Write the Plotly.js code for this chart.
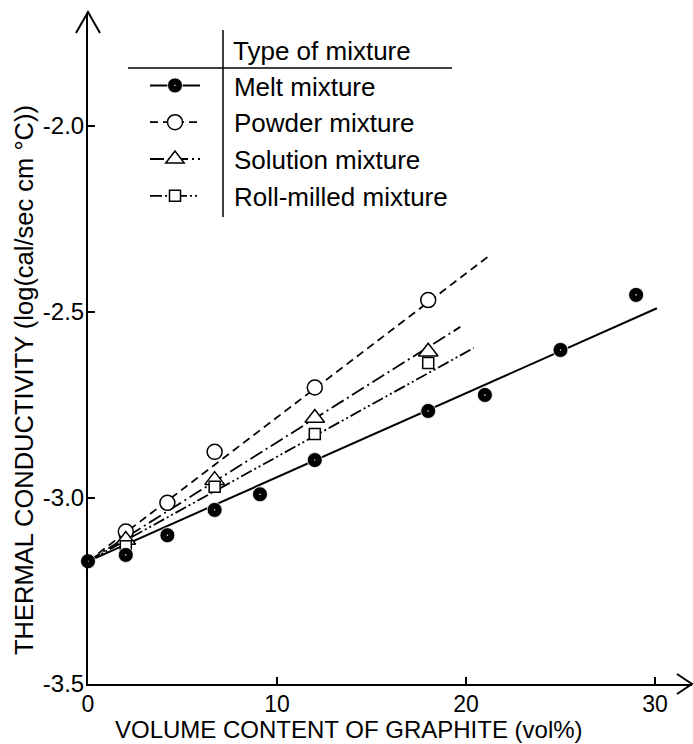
<!DOCTYPE html>
<html>
<head>
<meta charset="utf-8">
<script src="https://cdn.plot.ly/plotly-3.0.1.min.js"></script>
<style>
html,body{margin:0;padding:0;background:#fff;}
#chart{width:693px;height:744px;}
</style>
</head>
<body>
<div id="chart"></div>
<script>
// ---- data ----
const meltX = [0, 2, 4.2, 6.7, 9.1, 12, 18, 21, 25, 29];
const meltY = [-3.17, -3.153, -3.10, -3.032, -2.99, -2.898, -2.766, -2.723, -2.602, -2.454];
const powderX = [2, 4.2, 6.7, 12, 18];
const powderY = [-3.09, -3.013, -2.876, -2.703, -2.468];
const solutionX = [2, 6.7, 12, 18];
const solutionY = [-3.113, -2.952, -2.785, -2.607];
const rollX = [2, 6.7, 12, 18];
const rollY = [-3.13, -2.97, -2.828, -2.637];
// fitted straight lines (start, end)
const meltFitX = [0, 30.1];
const meltFitY = [-3.17, -2.49];
const powderFitX = [0, 21.2];
const powderFitY = [-3.17, -2.35];
const solutionFitX = [0, 19.7];
const solutionFitY = [-3.17, -2.54];
const rollFitX = [0, 20.4];
const rollFitY = [-3.17, -2.597];
const seriesNames = ['Melt mixture', 'Powder mixture', 'Solution mixture', 'Roll-milled mixture'];
const xTicks = [0, 10, 20, 30];
const xTickText = ['0', '10', '20', '30'];
const yTicks = [-3.5, -3.0, -2.5, -2.0];
const yTickText = ['-3.5', '-3.0', '-2.5', '-2.0'];
const legendTitle = 'Type of mixture';
const xTitle = 'VOLUME CONTENT OF GRAPHITE (vol%)';
const yTitle = 'THERMAL CONDUCTIVITY (log(cal/sec cm °C))';

// ---- layout geometry ----
const ML = 88, MT = 13, MB = 60, MR = 1;
const PW = 693 - ML - MR, PH = 744 - MT - MB;
const px = p => (p - ML) / PW;
const py = p => (744 - MB - p) / PH;
const FONT = '"Liberation Sans", Arial, sans-serif';
const pad = '\u00a0\u00a0\u00a0\u00a0';

const mk = {
  melt: {symbol: 'circle-dot', size: 15, color: '#000', line: {color: '#fff', width: 0.8}},
  powder: {symbol: 'circle', size: 15, color: '#fff', line: {color: '#000', width: 1.5}},
  solution: {symbol: 'triangle-up', size: 17, color: '#fff', line: {color: '#000', width: 1.5}},
  roll: {symbol: 'square', size: 11, color: '#fff', line: {color: '#000', width: 1.5}}
};
const ln = {
  melt: {color: '#000', width: 2, dash: 'solid'},
  powder: {color: '#000', width: 1.8, dash: '8px,5px'},
  solution: {color: '#000', width: 1.8, dash: '14px,4px,2px,4px'},
  roll: {color: '#000', width: 1.8, dash: '12px,3px,2px,3px,2px,3px'}
};

function fit(x, y, name, key) {
  return {x: x, y: y, name: pad + name, type: 'scatter', mode: 'lines+markers',
    line: ln[key], marker: mk[key], selectedpoints: [],
    unselected: {marker: {opacity: 0}}, hoverinfo: 'skip', showlegend: true};
}
function pts(x, y, key) {
  return {x: x, y: y, type: 'scatter', mode: 'markers', marker: mk[key],
    showlegend: false, cliponaxis: false};
}

const data = [
  fit(meltFitX, meltFitY, seriesNames[0], 'melt'),
  fit(powderFitX, powderFitY, seriesNames[1], 'powder'),
  fit(solutionFitX, solutionFitY, seriesNames[2], 'solution'),
  fit(rollFitX, rollFitY, seriesNames[3], 'roll'),
  pts(powderX, powderY, 'powder'),
  pts(solutionX, solutionY, 'solution'),
  pts(rollX, rollY, 'roll'),
  pts(meltX, meltY, 'melt')
];

const layout = {
  width: 693, height: 744,
  margin: {l: ML, r: MR, t: MT, b: MB, pad: 0},
  paper_bgcolor: '#fff', plot_bgcolor: '#fff',
  font: {family: FONT, size: 23, color: '#000'},
  showlegend: true,
  legend: {x: px(145), y: py(62), xanchor: 'left', yanchor: 'top',
    bgcolor: 'rgba(0,0,0,0)', font: {family: FONT, size: 26, color: '#000'},
    itemwidth: 50, traceorder: 'normal'},
  xaxis: {range: [0, PW / 18.9], showline: true, linecolor: '#000', linewidth: 2,
    ticks: 'inside', ticklen: 7, tickwidth: 1.5, tickcolor: '#000',
    tickvals: xTicks, ticktext: xTickText, showgrid: false, zeroline: false,
    ticklabelstandoff: -2,
    tickfont: {family: FONT, size: 23, color: '#000'}, fixedrange: true},
  yaxis: {range: [-3.5, -3.5 + PH / 372], showline: true, linecolor: '#000', linewidth: 2,
    ticks: 'inside', ticklen: 7, tickwidth: 1.5, tickcolor: '#000',
    tickvals: yTicks, ticktext: yTickText, showgrid: false, zeroline: false,
    ticklabelstandoff: -3,
    tickfont: {family: FONT, size: 24, color: '#000'}, fixedrange: true},
  shapes: [
    {type: 'line', xref: 'paper', yref: 'paper', x0: px(223), x1: px(223), y0: py(30), y1: py(217),
      line: {color: '#000', width: 1.5}},
    {type: 'line', xref: 'paper', yref: 'paper', x0: px(128), x1: px(452), y0: py(68), y1: py(68),
      line: {color: '#000', width: 1.5}},
    {type: 'path', xref: 'paper', yref: 'paper',
      path: `M ${px(76)} ${py(33)} L ${px(88)} ${py(12)} L ${px(100)} ${py(33)}`,
      line: {color: '#000', width: 2}},
    {type: 'path', xref: 'paper', yref: 'paper',
      path: `M ${px(677)} ${py(674)} L ${px(692)} ${py(684)} L ${px(677)} ${py(694)}`,
      line: {color: '#000', width: 2}}
  ],
  annotations: [
    {text: legendTitle, xref: 'paper', yref: 'paper', x: px(231), y: py(51),
      xanchor: 'left', yanchor: 'middle', showarrow: false, font: {family: FONT, size: 26}},
    {text: xTitle, xref: 'paper', yref: 'paper', x: px(349), y: py(729),
      xanchor: 'center', yanchor: 'middle', showarrow: false, font: {family: FONT, size: 24}},
    {text: yTitle, xref: 'paper', yref: 'paper', x: px(24), y: py(380), textangle: -90,
      xanchor: 'center', yanchor: 'middle', showarrow: false, font: {family: FONT, size: 25.5}}
  ]
};

Plotly.newPlot('chart', data, layout, {staticPlot: true, displayModeBar: false});
</script>
</body>
</html>
